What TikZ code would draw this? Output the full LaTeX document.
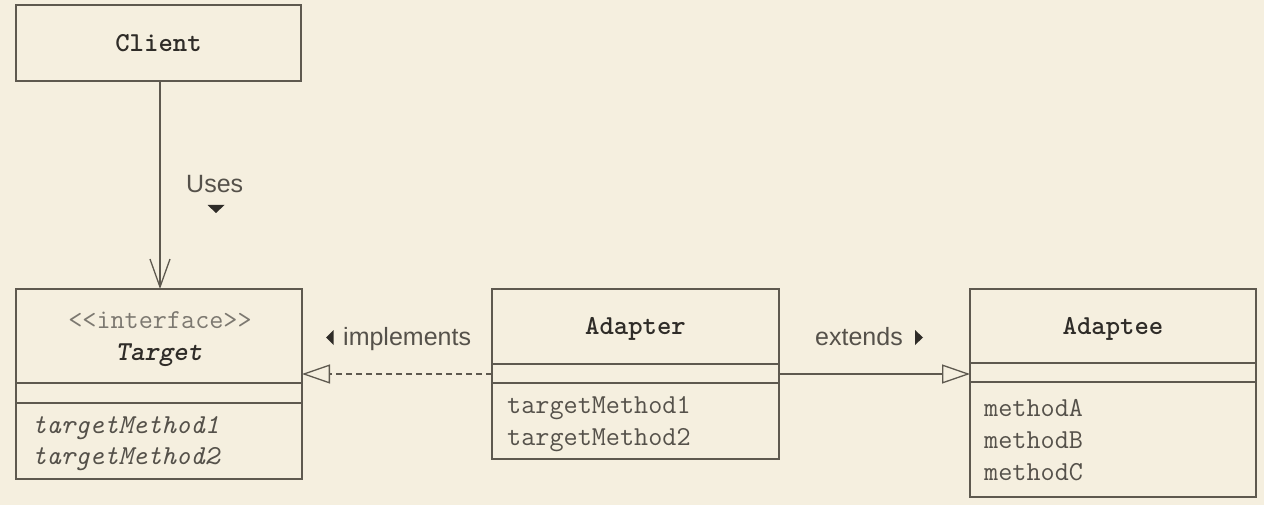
\documentclass[tikz,border=0pt]{standalone}
\usepackage{fontspec}
\setmainfont{Liberation Serif}
\setsansfont{Liberation Sans}
\usetikzlibrary{arrows.meta}
\definecolor{bg}{HTML}{F5EFDF}
\definecolor{ln}{HTML}{5E594F}
\definecolor{txt}{HTML}{55514A}
\definecolor{boldtxt}{HTML}{2F2C28}
\definecolor{light}{HTML}{7C7870}
\newcommand{\monosz}{\fontsize{27.4}{32}\selectfont}
\begin{document}
\begin{tikzpicture}[x=1pt,y=-1pt,
  box/.style={draw=ln, line width=1.3pt, rectangle, inner sep=0pt, outer sep=0pt, anchor=north west},
  divider/.style={draw=ln, line width=1.3pt},
  title/.style={font=\ttfamily\bfseries\monosz, text=boldtxt, anchor=base, inner sep=0pt},
  stereo/.style={font=\ttfamily\monosz, text=light, anchor=base, inner sep=0pt},
  meth/.style={font=\ttfamily\monosz, text=txt, anchor=base west, inner sep=0pt},
  lbl/.style={font=\sffamily\fontsize{25}{30}\selectfont, text=txt, anchor=base west, inner sep=0pt},
  conn/.style={draw=ln, line width=1.3pt},
  gen/.style={-{Triangle[open, length=28pt, width=19pt, line width=1.3pt]}},
  dir/.style={fill=boldtxt}
]
\fill[bg] (0,0) rectangle (1264,505);
\useasboundingbox (0,0) rectangle (1264,505);

% Client
\node[box, minimum width=285pt, minimum height=76pt] (client) at (16,5) {};
\node[title] (clientname) at (158.5,52) {Client};

% Target
\node[box, minimum width=286pt, minimum height=190pt] (target) at (16,289) {};
\draw[divider] (target.west |- 0,383) -- (target.east |- 0,383);
\draw[divider] (target.west |- 0,403) -- (target.east |- 0,403);
\node[stereo] (tstereo) at (160,328) {<{}<interface>{}>};
\node[title, font=\ttfamily\bfseries\itshape\monosz] (tname) at (159,360) {Target};
\node[meth, font=\ttfamily\itshape\monosz] (tm1) at (32,433) {targetMethod1};
\node[meth, font=\ttfamily\itshape\monosz] (tm2) at (32,464) {targetMethod2};

% Adapter
\node[box, minimum width=287pt, minimum height=170pt] (adapter) at (492,289) {};
\draw[divider] (adapter.west |- 0,364) -- (adapter.east |- 0,364);
\draw[divider] (adapter.west |- 0,383) -- (adapter.east |- 0,383);
\node[title] (aname) at (635.5,334) {Adapter};
\node[meth] (am1) at (507,413) {targetMethod1};
\node[meth] (am2) at (507,445) {targetMethod2};

% Adaptee
\node[box, minimum width=286pt, minimum height=208pt] (adaptee) at (970,289) {};
\draw[divider] (adaptee.west |- 0,363) -- (adaptee.east |- 0,363);
\draw[divider] (adaptee.west |- 0,382) -- (adaptee.east |- 0,382);
\node[title] (ename) at (1113,334) {Adaptee};
\node[meth] (em1) at (984,416) {methodA};
\node[meth] (em2) at (984,448) {methodB};
\node[meth] (em3) at (984,480) {methodC};

% Connectors
\draw[conn, -{Straight Barb[length=28pt, width=20pt, line width=1.3pt]}] (client.south -| 160,0) -- (target.north -| 160,0);
\draw[conn, gen, dash pattern=on 6pt off 4pt] (adapter.west) -- (adapter.west -| target.east);
\draw[conn, gen] (adapter.east) -- (adapter.east -| adaptee.west);

% Labels
\node[lbl] (uses) at (186,193) {Uses};
\fill[dir] (207.5,205) -- (224.5,205) -- (216,213) -- cycle;
\node[lbl] (impl) at (343,345) {implements};
\fill[dir] (326,337.5) -- (333.5,330) -- (333.5,345) -- cycle;
\node[lbl] (ext) at (815,345) {extends};
\fill[dir] (915,330) -- (923,337.5) -- (915,345) -- cycle;
\end{tikzpicture}
\end{document}
